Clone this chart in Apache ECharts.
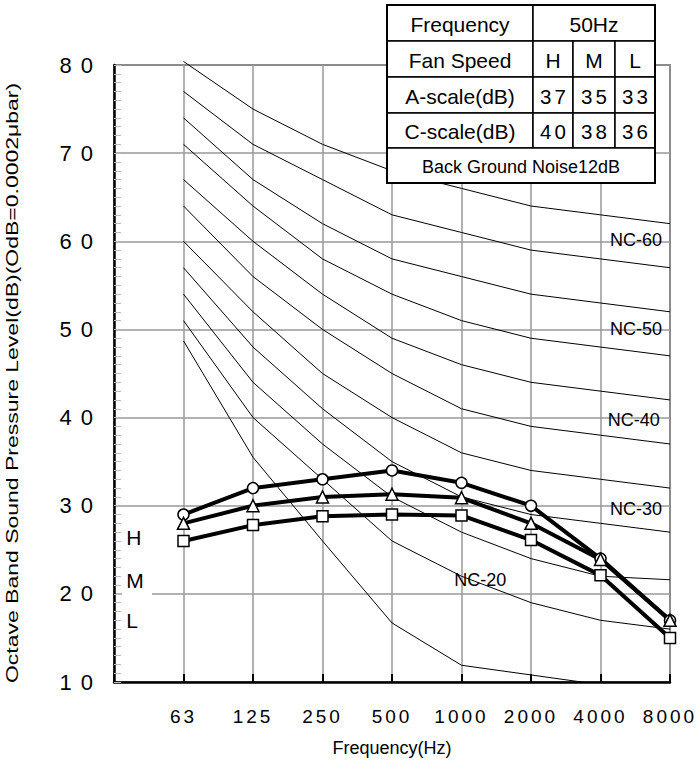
<!DOCTYPE html>
<html>
<head>
<meta charset="utf-8">
<title>NC curves</title>
<script src="https://cdn.jsdelivr.net/npm/echarts@6/dist/echarts.min.js"></script>
<style>
  html, body { margin: 0; padding: 0; background: #fff; }
  #chart { width: 699px; height: 767px; }
  /* the numerals in the original are widely spaced */
  #chart text[style*="22px"] { letter-spacing: 9px; }
  #chart text[style*="19px"] { letter-spacing: 3px; }
  #chart text[style*="20.5px"] { letter-spacing: 3px; }
</style>
</head>
<body>
<div id="chart"></div>
<script>
// octave band centre frequencies (x axis, positions 1..8)
const freqLabels = ['63', '125', '250', '500', '1000', '2000', '4000', '8000'];

// NC reference curves, dB per octave band
const nc65 = [80.4, 75, 71, 68, 66, 64, 63, 62];
const nc60 = [77, 71, 67, 63, 61, 59, 58, 57];
const nc55 = [74, 67, 62, 58, 56, 54, 53, 52];
const nc50 = [71, 64, 58, 54, 51, 49, 48, 47];
const nc45 = [67, 60, 54, 49, 46, 44, 43, 42];
const nc40 = [64, 56, 50, 45, 41, 39, 38, 37];
const nc35 = [60, 52, 45, 40, 36, 34, 33, 32];
const nc30 = [57, 48, 41, 35, 31, 29, 28, 27];
const nc25 = [54, 44, 37, 31, 27, 24, 22, 21.6];
const nc20 = [51, 40, 33, 26, 22, 19, 17, 16];
const nc15 = [48.7, 35.5, 26, 16.7, 11.9, 10.8, 9.7, 9];

// measured sound pressure, fan speed H / M / L
const highSpl = [29, 32, 33, 34, 32.6, 30, 24, 17];
const midSpl = [28, 30, 31, 31.3, 30.9, 28, 23.9, 17];
const lowSpl = [26, 27.8, 28.8, 29, 28.9, 26.1, 22.1, 15];

// curve names and where their labels sit (axis units)
const ncLabelNames = ['NC-60', 'NC-50', 'NC-40', 'NC-30', 'NC-20'];
const ncLabelX = [7.51, 7.51, 7.48, 7.51, 5.27];
const ncLabelY = [60.2, 50.0, 39.7, 29.6, 21.6];

// table values
const tableFreq = '50Hz';
const fanSpeeds = ['H', 'M', 'L'];
const aScale = [37, 35, 33];
const cScale = [40, 38, 36];
const bgNoise = 'Back Ground Noise12dB';
const speedLabelX = [0.17, 0.17, 0.17];
const speedLabelY = [26.45, 21.46, 16.96];

const FONT = 'Helvetica, Arial, "Liberation Sans", sans-serif';

const chart = echarts.init(document.getElementById('chart'), null, { renderer: 'svg' });

const ncCurves = [nc65, nc60, nc55, nc50, nc45, nc40, nc35, nc30, nc25, nc20, nc15];
const ncSeries = ncCurves.map((vals, i) => ({
  type: 'line',
  name: 'NC-' + (65 - i * 5),
  data: vals.map((v, j) => [j + 1, v]),
  symbol: 'none',
  silent: true,
  clip: i !== 0, // NC-65 starts just above the top of the frame
  lineStyle: { color: '#000', width: 1 },
  z: 3
}));

function speedSeries(name, vals, symbol, size) {
  return {
    type: 'line',
    name: name,
    data: vals.map((v, j) => [j + 1, v]),
    symbol: symbol,
    symbolSize: size,
    clip: false,
    lineStyle: { color: '#000', width: 4 },
    itemStyle: { color: '#fff', borderColor: '#000', borderWidth: 1.5 },
    emphasis: { disabled: true },
    z: 5
  };
}

function labelSeries(names, xs, ys, position, fontSize) {
  return {
    type: 'scatter',
    silent: true,
    symbolSize: 1,
    itemStyle: { color: 'rgba(0,0,0,0)', opacity: 1 },
    data: names.map((n, i) => ({ name: n, value: [xs[i], ys[i]] })),
    label: {
      show: true, position: position, distance: 0, formatter: '{b}',
      color: '#000', opacity: 1, textBorderWidth: 0, fontSize: fontSize, fontFamily: FONT
    },
    z: 6
  };
}

// table at top right
const tableCols = [387, 533, 573, 615, 655];
const tableRows = [5, 41, 77, 113, 148, 183];
const cells = [
  [0, 0, 1, 'Frequency'], [0, 1, 4, tableFreq],
  [1, 0, 1, 'Fan Speed'], ...fanSpeeds.map((s, i) => [1, i + 1, i + 2, s]),
  [2, 0, 1, 'A-scale(dB)'], ...aScale.map((v, i) => [2, i + 1, i + 2, String(v), 20.5]),
  [3, 0, 1, 'C-scale(dB)'], ...cScale.map((v, i) => [3, i + 1, i + 2, String(v), 20.5]),
  [4, 0, 4, bgNoise, 18]
];
const tableEls = [];
cells.forEach(([r, c0, c1, txt, fs]) => {
  const x = tableCols[c0], y = tableRows[r];
  const w = tableCols[c1] - x, h = tableRows[r + 1] - y;
  tableEls.push({
    type: 'rect', z: 100,
    shape: { x: x, y: y, width: w, height: h },
    style: { fill: '#fff', stroke: '#000', lineWidth: 1.5 }
  });
  tableEls.push({
    type: 'text', z: 101,
    x: x + w / 2 + (fs === 20.5 ? 1.5 : 0), y: y + h / 2 + 1,
    style: { text: txt, fill: '#000', fontSize: fs || 21, fontFamily: FONT, align: 'center', verticalAlign: 'middle' }
  });
});
tableEls.push({
  type: 'rect', z: 102,
  shape: { x: tableCols[0], y: tableRows[0], width: tableCols[4] - tableCols[0], height: tableRows[5] - tableRows[0] },
  style: { fill: 'none', stroke: '#000', lineWidth: 2 }
});

const option = {
  animation: false,
  backgroundColor: '#fff',
  grid: { left: 114, top: 65, width: 556, height: 617, show: true, borderColor: '#333', borderWidth: 1.5 },
  xAxis: {
    type: 'value',
    min: 0, max: 8, interval: 1,
    name: 'Frequency(Hz)',
    nameLocation: 'middle',
    nameGap: 57,
    nameTextStyle: { fontSize: 18, color: '#000', fontFamily: FONT },
    axisLine: { show: true, onZero: false, lineStyle: { color: '#000', width: 2.5 } },
    axisTick: { show: true, inside: true, length: 8, lineStyle: { color: '#000', width: 2 } },
    axisLabel: {
      margin: 25, fontSize: 19, color: '#000', fontFamily: FONT,
      formatter: v => freqLabels[v - 1] || ''
    },
    splitLine: { show: true, lineStyle: { color: '#999', width: 1.5 } }
  },
  yAxis: {
    type: 'value',
    min: 10, max: 80, interval: 10,
    axisLine: { show: true, lineStyle: { color: '#000', width: 2.5 } },
    axisTick: { show: true, inside: true, length: 7, lineStyle: { color: '#bbb', width: 1 } },
    minorTick: { show: true, splitNumber: 10, length: 7, lineStyle: { color: '#bbb', width: 1 } },
    axisLabel: { margin: 12, fontSize: 22, color: '#000', fontFamily: FONT },
    splitLine: { show: true, lineStyle: { color: '#999', width: 1.5 } }
  },
  graphic: [
    // gap in the 20 dB grid line beside the H/M/L labels
    { type: 'rect', z: 1, shape: { x: 122, y: 592, width: 30, height: 4 }, style: { fill: '#fff' } },
    {
      type: 'text', z: 10,
      x: 12.5, y: 383,
      rotation: Math.PI / 2,
      scaleX: 1, scaleY: 0.75,
      style: {
        text: 'Octave Band Sound Pressure Level(dB)(OdB=0.0002μbar)',
        fill: '#000', fontSize: 23, fontFamily: FONT, align: 'center', verticalAlign: 'middle'
      }
    },
    ...tableEls
  ],
  series: [
    ...ncSeries,
    speedSeries('H', highSpl, 'circle', 11),
    speedSeries('M', midSpl, 'triangle', 12),
    speedSeries('L', lowSpl, 'rect', 11),
    labelSeries(ncLabelNames, ncLabelX, ncLabelY, 'inside', 18),
    labelSeries(fanSpeeds, speedLabelX, speedLabelY, 'right', 21)
  ]
};

chart.setOption(option);
</script>
</body>
</html>
